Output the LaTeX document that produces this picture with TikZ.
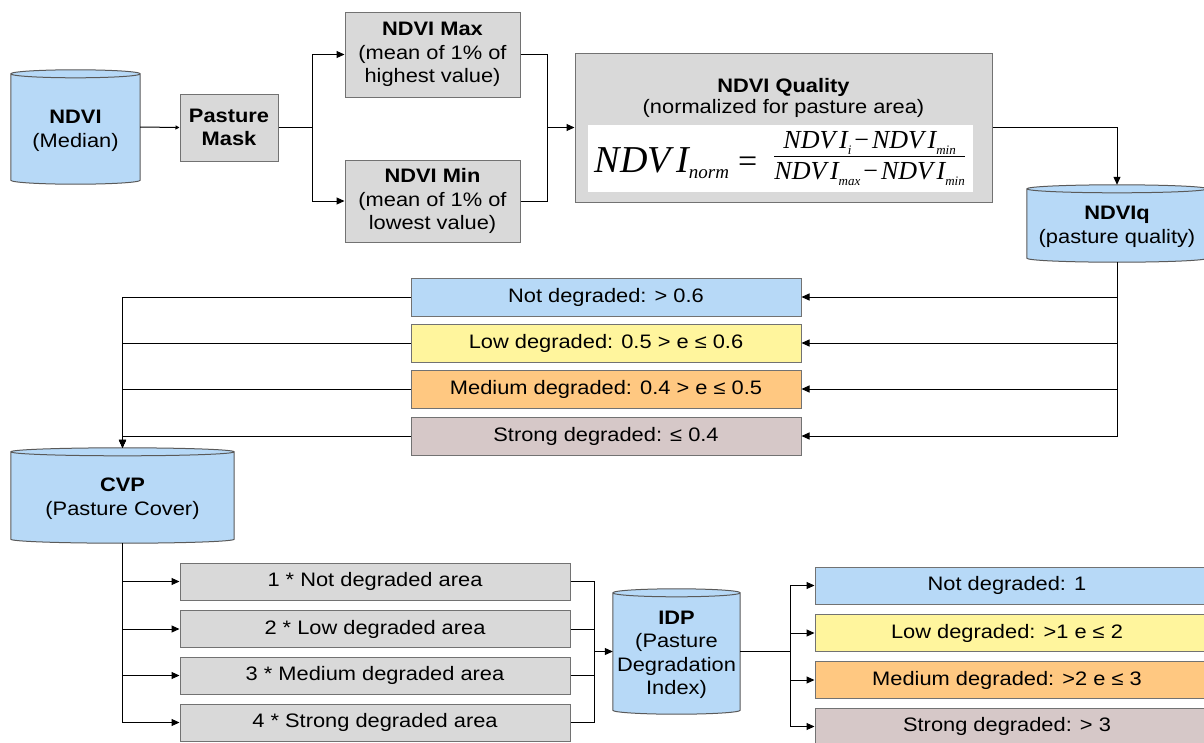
\documentclass[tikz,border=0pt]{standalone}
\usepackage{fontspec}
\setmainfont{Liberation Sans}[FakeStretch=1.12]
\newfontfamily\formfont{Liberation Serif}
\usetikzlibrary{arrows.meta,backgrounds,calc}

\definecolor{cylblue}{HTML}{B7D9F7}
\definecolor{cylline}{HTML}{5A5A5A}
\definecolor{boxgray}{HTML}{D9D9D9}
\definecolor{boxline}{HTML}{727272}
\definecolor{lvyellow}{HTML}{FFF59D}
\definecolor{lvorange}{HTML}{FFC881}
\definecolor{lvmauve}{HTML}{D6C8C8}

% formula pieces
\newcommand\fvar[1]{{\formfont\itshape\fontsize{#1}{#1}\selectfont NDV\kern0.14em I}}
\newcommand\fsub[2]{\raisebox{-0.3em}{\formfont\itshape\fontsize{#1}{#1}\selectfont #2}}
\newcommand\fminus{\hspace{3pt}{\formfont\fontsize{26}{26}\selectfont \char"2212}\hspace{3pt}}

% cylinder outline around a named node
\newcommand\cylbody[1]{%
  \path[draw=cylline,fill=cylblue,line width=1pt]
    let \p1=(#1.north west), \p2=(#1.south east), \n1={(\x2-\x1)/2} in
    (\x1,\y1-4pt) -- (\x1,\y2+4pt)
      arc[start angle=180,end angle=360,x radius=\n1,y radius=4pt]
      -- (\x2,\y1-4pt)
      arc[start angle=0,end angle=180,x radius=\n1,y radius=4pt] -- cycle
    (\x1,\y1-4pt) arc[start angle=180,end angle=360,x radius=\n1,y radius=4pt];}

\begin{document}
\begin{tikzpicture}[x=1pt,y=-1pt,
  font=\fontsize{19.5}{23.5}\selectfont,
  box/.style={draw=boxline,line width=1pt,fill=boxgray,align=center,inner sep=0pt},
  level/.style={box,minimum width=390,minimum height=38},
  outcome/.style={box,minimum width=400,minimum height=37},
  area/.style={box,minimum width=390,minimum height=37},
  cyl/.style={align=center,inner sep=0pt},
  ln/.style={line width=1pt},
  arr/.style={line width=1pt,-{Triangle[length=8pt,width=7pt]}},
  smallarr/.style={line width=1pt,-{Triangle[length=4pt,width=4pt]}}]

\useasboundingbox (0,0) rectangle (1204,742);
\clip (0,0) rectangle (1204,742);

% ---- first stage: NDVI normalisation ----
\node[cyl,minimum width=129,minimum height=114] (ndvi) at (75.5,127) {};
\node[align=center] at (75.5,131) {\textbf{NDVI}\\(Median)};

\node[box,minimum width=98,minimum height=67] (mask) at (229,127.5) {\textbf{Pasture}\\\textbf{Mask}};

\node[box,minimum width=175,minimum height=85] (max) at (432.5,54.5)
  {\textbf{NDVI Max}\\(mean of 1\% of\\highest value)};
\node[box,minimum width=175,minimum height=82] (min) at (432.5,201)
  {\textbf{NDVI Min}\\(mean of 1\% of\\lowest value)};

\node[box,minimum width=417,minimum height=149] (qual) at (783.5,127.5) {};
\node[align=center] (qtitle) at (783.5,98) {\textbf{NDVI Quality}\\[-2pt](normalized for pasture area)};
\node[fill=white,minimum width=385,minimum height=67,inner sep=0pt] (formula) at (780.5,158.5)
  {\fvar{38}\fsub{19}{norm}\hspace{9pt}{\formfont\fontsize{34}{34}\selectfont =}\hspace{16pt}%
   \raisebox{11pt}{$\hbox{\rule[-4pt]{0pt}{4pt}\fvar{26}\fsub{13}{i}\fminus\fvar{26}\fsub{13}{min}}\above1.6pt
     \hbox{\rule{0pt}{21pt}\fvar{26}\fsub{13}{max}\fminus\fvar{26}\fsub{13}{min}}$}};

\node[cyl,minimum width=180,minimum height=77] (ndviq) at (1117,223.5) {};
\node[align=center] at (1117,227) {\textbf{NDVIq}\\(pasture quality)};

% ---- quality classes ----
\node[level,fill=cylblue] (c1) at (606,297) {Not degraded: > 0.6};
\node[level,fill=lvyellow] (c2) at (606,343) {Low degraded: 0.5 > e ≤ 0.6};
\node[level,fill=lvorange] (c3) at (606,389) {Medium degraded: 0.4 > e ≤ 0.5};
\node[level,fill=lvmauve] (c4) at (606,436) {Strong degraded: ≤ 0.4};

\node[cyl,minimum width=223,minimum height=95] (cvp) at (122.5,495.5) {};
\node[align=center] at (122.5,498.5) {\textbf{CVP}\\(Pasture Cover)};

% ---- weighted areas ----
\node[area] (a1) at (375,581.5) {1 * Not degraded area};
\node[area] (a2) at (375,629) {2 * Low degraded area};
\node[area] (a3) at (375,675.5) {3 * Medium degraded area};
\node[area] (a4) at (375,722.5) {4 * Strong degraded area};

\node[cyl,minimum width=127,minimum height=125] (idp) at (676.5,651.5) {};
\node[align=center] at (676.5,655) {\textbf{IDP}\\(Pasture\\Degradation\\Index)};

% ---- degradation index classes ----
\node[outcome,fill=cylblue] (r1) at (1015,585.5) {};
\node at (1007,585.5) {Not degraded: 1};
\node[outcome,fill=lvyellow] (r2) at (1015,633) {};
\node at (1007,633) {Low degraded: >1 e ≤ 2};
\node[outcome,fill=lvorange] (r3) at (1015,680) {};
\node at (1007,680) {Medium degraded: >2 e ≤ 3};
\node[outcome,fill=lvmauve] (r4) at (1015,726.5) {};
\node at (1007,726) {Strong degraded: > 3};

% cylinders behind their labels
\begin{scope}[on background layer]
  \cylbody{ndvi}
  \cylbody{ndviq}
  \cylbody{cvp}
  \cylbody{idp}
\end{scope}

% ---- connectors ----
\draw[smallarr] (ndvi.east) -- (mask.west);

\coordinate (j0) at (312,127.5);
\draw[ln] (mask.east) -- (j0);
\draw[arr] (j0) |- (max.west);
\draw[arr] (j0) |- (min.west);

\coordinate (j1) at (547,127.5);
\draw[ln] (max.east) -| (j1);
\draw[ln] (min.east) -| (j1);
\draw[arr] (j1) -- (qual.west);

\draw[arr] (qual.east) -| (ndviq.north);

\foreach \c in {c1,c2,c3,c4}{
  \draw[arr] (ndviq.south) |- (\c.east);
  \draw[arr] (\c.west) -| (cvp.north);
}

\foreach \a in {a1,a2,a3,a4}
  \draw[arr] (cvp.south) |- (\a.west);

\coordinate (j2) at (594,651.5);
\foreach \a in {a1,a2,a3,a4}
  \draw[ln] (\a.east) -| (j2);
\draw[arr] (j2) -- (idp.west);

\coordinate (j3) at (790,651.5);
\draw[ln] (idp.east) -- (j3);
\foreach \r in {r1,r2,r3,r4}
  \draw[arr] (j3) |- (\r.west);

\end{tikzpicture}
\end{document}
